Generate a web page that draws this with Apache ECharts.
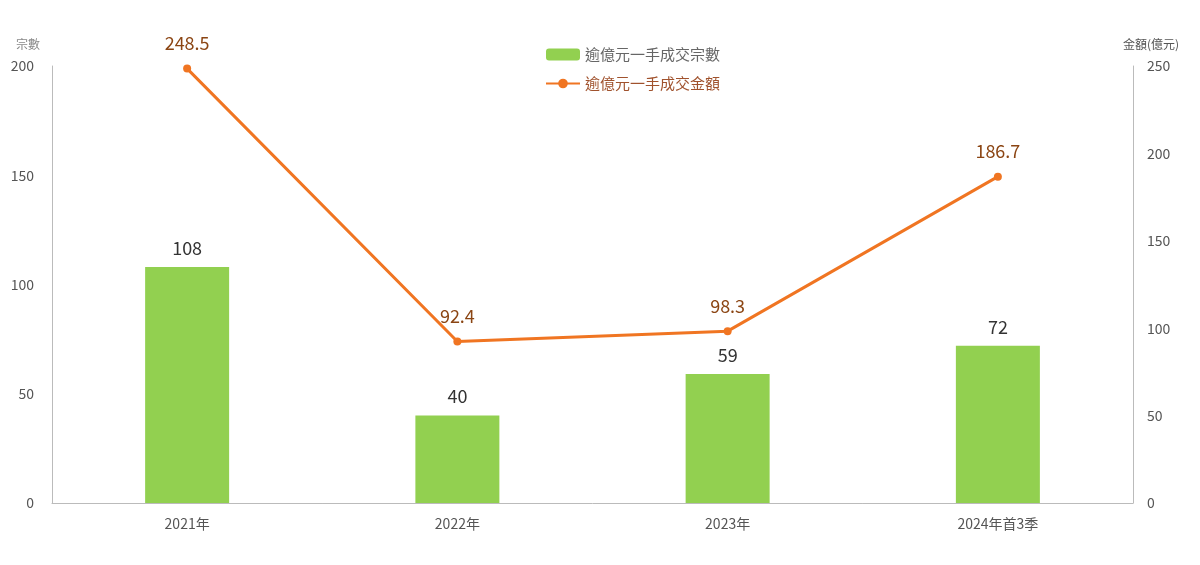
<!DOCTYPE html>
<html><head><meta charset="utf-8">
<script src="https://cdn.jsdelivr.net/npm/echarts@6/dist/echarts.min.js"></script>
<style>html,body{margin:0;background:#fff}#c{width:1200px;height:565px}</style></head>
<body><div id="c"></div>
<script>
const categories=['2021年','2022年','2023年','2024年首3季'];
const counts=[108,40,59,72];
const amounts=[248.5,92.4,98.3,186.7];
const leftTicks=[0,50,100,150,200];
const rightTicks=[0,50,100,150,200,250];
const font='"Noto Sans CJK TC","Noto Sans",sans-serif';
const c=echarts.init(document.getElementById('c'));
c.setOption({
 animation:false,
 textStyle:{fontFamily:font},
 grid:{left:52,right:67,top:66,bottom:62},
 legend:{orient:'vertical',left:540,top:42,itemGap:14,itemWidth:34,itemHeight:12,
  textStyle:{fontSize:15,fontFamily:font},
  data:[{name:'逾億元一手成交宗數',textStyle:{color:'#666'}},{name:'逾億元一手成交金額',textStyle:{color:'#a0522d'}}]},
 xAxis:{type:'category',data:categories,axisTick:{show:false},
  axisLine:{lineStyle:{color:'#bbb'}},axisLabel:{color:'#555',fontSize:14,margin:14}},
 yAxis:[
  {type:'value',min:0,max:200,interval:50,name:'宗數',nameGap:16,nameLocation:'end',
   nameTextStyle:{color:'#888',fontSize:12,align:'right',padding:[0,12,0,0]},
   axisLine:{show:true,lineStyle:{color:'#bbb'}},splitLine:{show:false},
   axisLabel:{color:'#555',fontSize:14,margin:18}},
  {type:'value',min:0,max:250,interval:50,name:'金額(億元)',nameGap:16,
   nameTextStyle:{color:'#555',fontSize:12,align:'left',padding:[0,0,0,-10]},
   axisLine:{show:true,lineStyle:{color:'#bbb'}},splitLine:{show:false},
   axisLabel:{color:'#555',fontSize:14,margin:14}}],
 series:[
  {name:'逾億元一手成交宗數',type:'bar',data:counts,barWidth:84,itemStyle:{color:'#92d050'},
   label:{show:true,position:'top',distance:10,color:'#333',fontSize:18}},
  {name:'逾億元一手成交金額',type:'line',yAxisIndex:1,data:amounts,symbol:'circle',symbolSize:8,
   lineStyle:{color:'#f07522',width:3},itemStyle:{color:'#f07522'},
   label:{show:true,position:'top',distance:12,color:'#8b4513',fontSize:18}}]
});
</script></body></html>
